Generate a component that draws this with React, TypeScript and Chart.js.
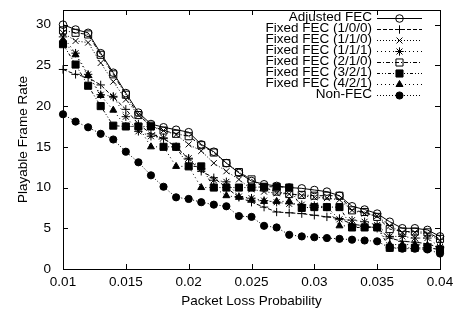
import React, { useEffect, useRef } from 'react';
import { Chart, registerables } from 'chart.js';
import { drawPoint } from 'chart.js/helpers';

Chart.register(...registerables);

const lossProb = [0.010, 0.011, 0.012, 0.013, 0.014, 0.015, 0.016, 0.017, 0.018, 0.019, 0.020, 0.021, 0.022, 0.023, 0.024, 0.025, 0.026, 0.027, 0.028, 0.029, 0.030, 0.031, 0.032, 0.033, 0.034, 0.035, 0.036, 0.037, 0.038, 0.039, 0.040];
const xTicks = [0.01, 0.015, 0.02, 0.025, 0.03, 0.035, 0.04];
const xTickLabels = ['0.01', '0.015', '0.02', '0.025', '0.03', '0.035', '0.04'];
const yTicks = [0, 5, 10, 15, 20, 25, 30];
const yTickLabels = ['0', '5', '10', '15', '20', '25', '30'];

const seriesNames = ['Adjusted FEC', 'Fixed FEC (1/0/0)', 'Fixed FEC (1/1/0)', 'Fixed FEC (1/1/1)', 'Fixed FEC (2/1/0)', 'Fixed FEC (3/2/1)', 'Fixed FEC (4/2/1)', 'Non-FEC'];

const adjustedFec = [30.0, 29.4, 29.0, 26.5, 24.1, 21.6, 19.2, 17.8, 17.4, 17.1, 16.8, 15.3, 14.4, 13.0, 11.8, 10.8, 10.4, 10.2, 10.0, 9.9, 9.7, 9.5, 9.0, 7.7, 7.3, 6.8, 5.8, 5.0, 5.0, 4.8, 4.0];
const fixed100 = [24.5, 23.9, 23.5, 22.6, 21.1, 19.6, 17.8, 16.6, 16.0, 15.0, 13.5, 12.0, 11.2, 10.0, 8.8, 8.2, 7.6, 7.0, 6.9, 6.8, 6.6, 6.4, 6.2, 5.5, 5.3, 5.0, 3.8, 3.4, 3.3, 3.1, 2.6];
const fixed110 = [29.0, 28.0, 27.8, 25.3, 23.0, 20.8, 18.9, 17.5, 17.0, 16.5, 15.3, 14.5, 13.0, 12.0, 11.0, 9.8, 9.5, 9.3, 9.2, 9.0, 8.8, 8.7, 8.5, 7.2, 6.8, 6.5, 5.3, 4.5, 4.5, 4.3, 3.5];
const fixed111 = [28.5, 26.5, 23.9, 21.4, 21.2, 18.7, 16.9, 16.3, 16.1, 15.0, 13.6, 12.3, 10.9, 10.7, 8.9, 8.7, 8.4, 8.2, 8.0, 7.9, 7.8, 7.6, 6.1, 6.0, 5.8, 5.4, 4.0, 4.0, 3.8, 3.8, 2.7];
const fixed210 = [29.3, 29.0, 28.8, 26.3, 23.9, 21.4, 18.9, 17.6, 17.0, 16.6, 16.3, 15.2, 14.3, 13.0, 11.9, 11.0, 10.0, 9.5, 9.2, 9.1, 9.0, 9.0, 9.0, 7.2, 7.0, 6.4, 4.9, 4.6, 4.6, 4.5, 3.7];
const fixed321 = [27.6, 25.1, 22.5, 20.0, 17.6, 17.5, 17.5, 17.5, 15.0, 15.0, 12.6, 12.6, 10.0, 10.0, 10.0, 10.0, 10.1, 10.1, 10.0, 7.5, 7.6, 7.6, 7.6, 5.1, 5.1, 5.1, 2.6, 2.6, 2.6, 2.6, 2.4];
const fixed421 = [28.0, 26.3, 23.8, 21.3, 19.5, 17.5, 17.5, 15.0, 15.0, 12.6, 12.6, 10.0, 10.0, 9.0, 8.8, 8.5, 8.3, 8.3, 8.3, 7.6, 7.6, 7.5, 5.3, 5.3, 5.2, 5.1, 3.0, 3.0, 3.0, 2.9, 2.2];
const nonFec = [19.0, 18.1, 17.4, 16.6, 15.9, 14.4, 13.1, 11.5, 10.1, 8.8, 8.6, 8.2, 7.9, 7.7, 6.5, 6.4, 5.3, 5.1, 4.2, 4.0, 3.9, 3.8, 3.7, 3.6, 3.5, 3.4, 2.6, 2.5, 2.5, 2.4, 1.9];

const seriesValues = [adjustedFec, fixed100, fixed110, fixed111, fixed210, fixed321, fixed421, nonFec];

const seriesStyles = [
  { pointStyle: 'circle', radius: 3.8, fill: 'rgba(0,0,0,0)', dash: [] as number[] },
  { pointStyle: 'cross', radius: 4.2, fill: 'rgba(0,0,0,0)', dash: [4, 2] },
  { pointStyle: 'crossRot', radius: 4.2, fill: 'rgba(0,0,0,0)', dash: [1, 2] },
  { pointStyle: 'star', radius: 4.2, fill: 'rgba(0,0,0,0)', dash: [1, 3] },
  { pointStyle: 'rect', radius: 5, fill: 'rgba(0,0,0,0)', dash: [4, 2, 1, 2] },
  { pointStyle: 'rect', radius: 5, fill: '#000', dash: [3, 2, 1, 2, 1, 2] },
  { pointStyle: 'triangle', radius: 4, fill: '#000', dash: [1, 3] },
  { pointStyle: 'circle', radius: 3.6, fill: '#000', dash: [1, 2] },
];

const FONT = { family: '"Liberation Sans", Arial, Helvetica, sans-serif', size: 13.5 };

const framePlugin = {
  id: 'gnuplotFrame',
  afterDraw(chart: any) {
    const { ctx, chartArea, scales } = chart;
    const { left, right, top, bottom } = chartArea;
    ctx.save();
    ctx.strokeStyle = '#000';
    ctx.lineWidth = 1;
    ctx.setLineDash([]);
    ctx.strokeRect(Math.round(left) + 0.5, Math.round(top) + 0.5, Math.round(right - left), Math.round(bottom - top));
    const tl = 5;
    ctx.beginPath();
    xTicks.forEach((v) => {
      const px = Math.round(scales.x.getPixelForValue(v)) + 0.5;
      ctx.moveTo(px, bottom);
      ctx.lineTo(px, bottom - tl);
      ctx.moveTo(px, top);
      ctx.lineTo(px, top + tl);
    });
    yTicks.forEach((v) => {
      const py = Math.round(scales.y.getPixelForValue(v)) + 0.5;
      ctx.moveTo(left, py);
      ctx.lineTo(left + tl, py);
      ctx.moveTo(right, py);
      ctx.lineTo(right - tl, py);
    });
    ctx.stroke();

    const textRight = 372;
    const x0 = 377;
    const x1 = 422;
    const xm = (x0 + x1) / 2;
    ctx.font = `${FONT.size}px ${FONT.family}`;
    ctx.textAlign = 'right';
    ctx.textBaseline = 'middle';
    seriesNames.forEach((name, i) => {
      const y = 17.5 + i * 11;
      const st = seriesStyles[i];
      ctx.fillStyle = '#000';
      ctx.fillText(name, textRight, y);
      ctx.beginPath();
      ctx.setLineDash(st.dash);
      ctx.moveTo(x0, Math.round(y) + 0.5);
      ctx.lineTo(x1, Math.round(y) + 0.5);
      ctx.stroke();
      ctx.setLineDash([]);
      ctx.fillStyle = st.fill;
      ctx.strokeStyle = '#000';
      drawPoint(ctx, { pointStyle: st.pointStyle, radius: st.radius, rotation: 0, borderWidth: 1 } as any, xm, Math.round(y) + 0.5);
    });
    ctx.restore();
  },
};

export default function App() {
  const ref = useRef<HTMLCanvasElement | null>(null);
  useEffect(() => {
    if (!ref.current) return;
    const datasets = seriesNames.map((name, i) => {
      const st = seriesStyles[i];
      return {
        label: name,
        data: lossProb.map((x, j) => ({ x, y: seriesValues[i][j] })),
        borderColor: '#000',
        backgroundColor: st.fill,
        borderWidth: 1,
        borderDash: st.dash,
        pointStyle: st.pointStyle,
        pointRadius: st.radius,
        pointBorderWidth: 1,
        pointBorderColor: '#000',
        pointBackgroundColor: st.fill,
        tension: 0,
        fill: false,
        clip: false,
      };
    });
    const chart = new Chart(ref.current, {
      type: 'line',
      data: { datasets } as any,
      plugins: [framePlugin],
      options: {
        animation: false,
        responsive: false,
        maintainAspectRatio: false,
        layout: { autoPadding: false, padding: 0 },
        plugins: { legend: { display: false }, tooltip: { enabled: false } },
        scales: {
          x: {
            type: 'linear',
            min: 0.01,
            max: 0.04,
            grid: { display: false, drawTicks: false },
            border: { display: false },
            afterBuildTicks: (s: any) => { s.ticks = xTicks.map((v) => ({ value: v })); },
            afterFit: (s: any) => { s.height = 42; s.paddingRight = 15; s.paddingLeft = 0; },
            ticks: {
              color: '#000',
              font: FONT,
              padding: 5,
              maxRotation: 0,
              autoSkip: false,
              callback: (v: any) => xTickLabels[xTicks.indexOf(v)] ?? '',
            },
            title: { display: true, text: 'Packet Loss Probability', color: '#000', font: FONT, padding: { top: 0, bottom: 2 } },
          },
          y: {
            type: 'linear',
            min: 0,
            max: 31.8,
            grid: { display: false, drawTicks: false },
            border: { display: false },
            afterBuildTicks: (s: any) => { s.ticks = yTicks.map((v) => ({ value: v })); },
            afterFit: (s: any) => { s.width = 63; s.paddingTop = 10; s.paddingBottom = 0; },
            ticks: {
              color: '#000',
              font: FONT,
              padding: 12,
              autoSkip: false,
              callback: (v: any) => yTickLabels[yTicks.indexOf(v)] ?? '',
            },
            title: { display: true, text: 'Playable Frame Rate', color: '#000', font: FONT, padding: { top: 15, bottom: 0 } },
          },
        },
      } as any,
    });
    return () => chart.destroy();
  }, []);
  return (
    <div style={{ position: 'fixed', left: 0, top: 0, width: 455, height: 311, background: '#fff' }}>
      <canvas ref={ref} width={455} height={311} style={{ width: 455, height: 311, display: 'block' }} />
    </div>
  );
}
